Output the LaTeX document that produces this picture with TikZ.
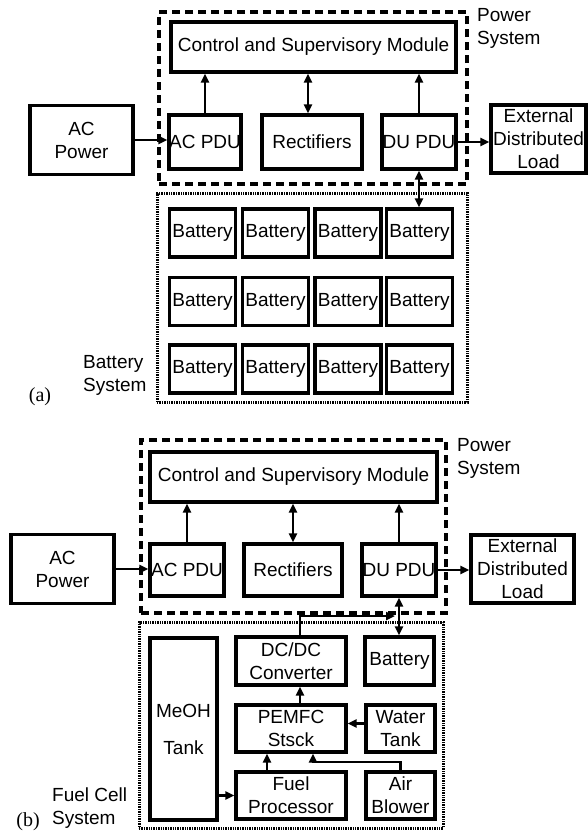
\documentclass[tikz,border=0pt]{standalone}
\usepackage{fontspec}
\setmainfont{Liberation Sans}
\newfontfamily\seriffont{Liberation Serif}
\usetikzlibrary{arrows.meta}
\begin{document}
\begin{tikzpicture}[x=1pt,y=-1pt,
 wh/.style 2 args={minimum width=#1pt, minimum height=#2pt},
 blk/.style={draw, line width=3.1pt, inner sep=0pt, align=center, font=\fontsize{19}{23}\selectfont},
 arr/.style={line width=2.8pt, -{Triangle[length=9pt,width=8pt]}},
 darr/.style={line width=2.8pt, {Triangle[length=9pt,width=8pt]}-{Triangle[length=9pt,width=8pt]}},
 grpdash/.style={draw, line width=3.2pt, dash pattern=on 8pt off 5pt, inner sep=0pt},
 grpdot/.style={draw, line width=3pt, dash pattern=on 1.4pt off 1pt, inner sep=0pt},
 lbl/.style={align=left, inner sep=0pt, font=\fontsize{19}{23}\selectfont},
 tag/.style={inner sep=0pt, font=\seriffont\fontsize{20}{24}\selectfont}]
\fill[white] (0,0) rectangle (588,835);
\useasboundingbox (0,0) rectangle (588,835);

% ---------------- (a) ----------------
\node[grpdash, wh={308}{172}] (psA) at (313,98) {};
\node[blk, wh={285}{50}] (csmA) at (313.5,47) {Control and Supervisory Module};
\node[blk, wh={103}{69}] (acA) at (81.5,140) {AC\\Power};
\node[blk, wh={72}{54}] (acpduA) at (205,142) {AC PDU};
\node[blk, wh={100}{54}] (rectA) at (312,142) {Rectifiers};
\node[blk, wh={74}{54}] (duA) at (419,142) {DU PDU};
\node[blk, wh={95}{68}] (extA) at (538.5,139) {External\\Distributed\\Load};
\node[lbl, anchor=north west] (pslA) at (477,8) {Power\\System};

\node[grpdot, wh={310}{209}] (bsA) at (312,297.5) {};
\foreach \c/\x in {1/202.5,2/275.5,3/348,4/419.5}
  \foreach \r/\y in {1/233,2/301.5,3/369}
    \node[blk, wh={66}{48}] (bat\r\c) at (\x,\y) {Battery};
\node[lbl, anchor=west] (bslA) at (83,375) {Battery\\System};
\node[tag] (ta) at (40,397) {(a)};

\draw[arr] (acA.east) -- (acA.east -| acpduA.west);
\draw[arr] (acpduA.north) -- (acpduA.north |- csmA.south);
\draw[darr] ([xshift=-4pt]rectA.north) -- ([xshift=-4pt]rectA.north |- csmA.south);
\draw[arr] (duA.north) -- (duA.north |- csmA.south);
\draw[arr] (duA.east) -- (duA.east -| extA.west);
\draw[darr] (duA.south) -- (duA.south |- bat14.north);

% ---------------- (b) ----------------
\node[grpdash, wh={305}{173}] (psB) at (293.5,526.5) {};
\node[blk, wh={287}{50}] (csmB) at (293.5,477) {Control and Supervisory Module};
\node[blk, wh={103}{69}] (acB) at (62.5,569) {AC\\Power};
\node[blk, wh={74}{52}] (acpduB) at (187,570) {AC PDU};
\node[blk, wh={98}{52}] (rectB) at (293,570) {Rectifiers};
\node[blk, wh={74}{52}] (duB) at (399,570) {DU PDU};
\node[blk, wh={103}{68}] (extB) at (522.5,569) {External\\Distributed\\Load};
\node[lbl, anchor=north west] (pslB) at (457,438) {Power\\System};

\node[grpdot, wh={304}{206}] (fcB) at (291,725) {};
\node[blk, wh={67}{182}] (meoh) at (183.5,729) {MeOH\\[14pt]Tank};
\node[blk, wh={110}{48}] (dcdc) at (291,661) {DC/DC\\Converter};
\node[blk, wh={69}{48}] (batB) at (399.5,661) {Battery};
\node[blk, wh={110}{47}] (pem) at (291,728.5) {PEMFC\\Stsck};
\node[blk, wh={69}{47}] (water) at (400.5,728.5) {Water\\Tank};
\node[blk, wh={110}{47}] (fuel) at (291,795.5) {Fuel\\Processor};
\node[blk, wh={69}{47}] (air) at (400.5,795.5) {Air\\Blower};
\node[lbl, anchor=north west] (fcl) at (52,788) {Fuel Cell\\System};
\node[tag] (tb) at (28,822) {(b)};

\draw[arr] (acB.east) -- (acB.east -| acpduB.west);
\draw[arr] (acpduB.north) -- (acpduB.north |- csmB.south);
\draw[darr] (rectB.north) -- (rectB.north |- csmB.south);
\draw[arr] (duB.north) -- (duB.north |- csmB.south);
\draw[arr] (duB.east) -- (duB.east -| extB.west);
\draw[darr] (duB.south) -- (duB.south |- batB.north);
\coordinate (jn) at (395,616);
\draw[arr] ([xshift=9pt]dcdc.north) |- (jn);
\draw[arr] ([xshift=9pt]pem.north) -- ([xshift=9pt]dcdc.south);
\draw[arr] ([yshift=5pt]water.west) -- ([yshift=5pt]pem.east);
\draw[arr] ([xshift=-24pt]fuel.north) -- ([xshift=-24pt]pem.south);
\coordinate (ab) at (313,762);
\draw[arr] (air.north) |- (ab) -- (ab |- pem.south);
\draw[arr] (meoh.east |- fuel.west) -- (fuel.west);
\end{tikzpicture}
\end{document}
